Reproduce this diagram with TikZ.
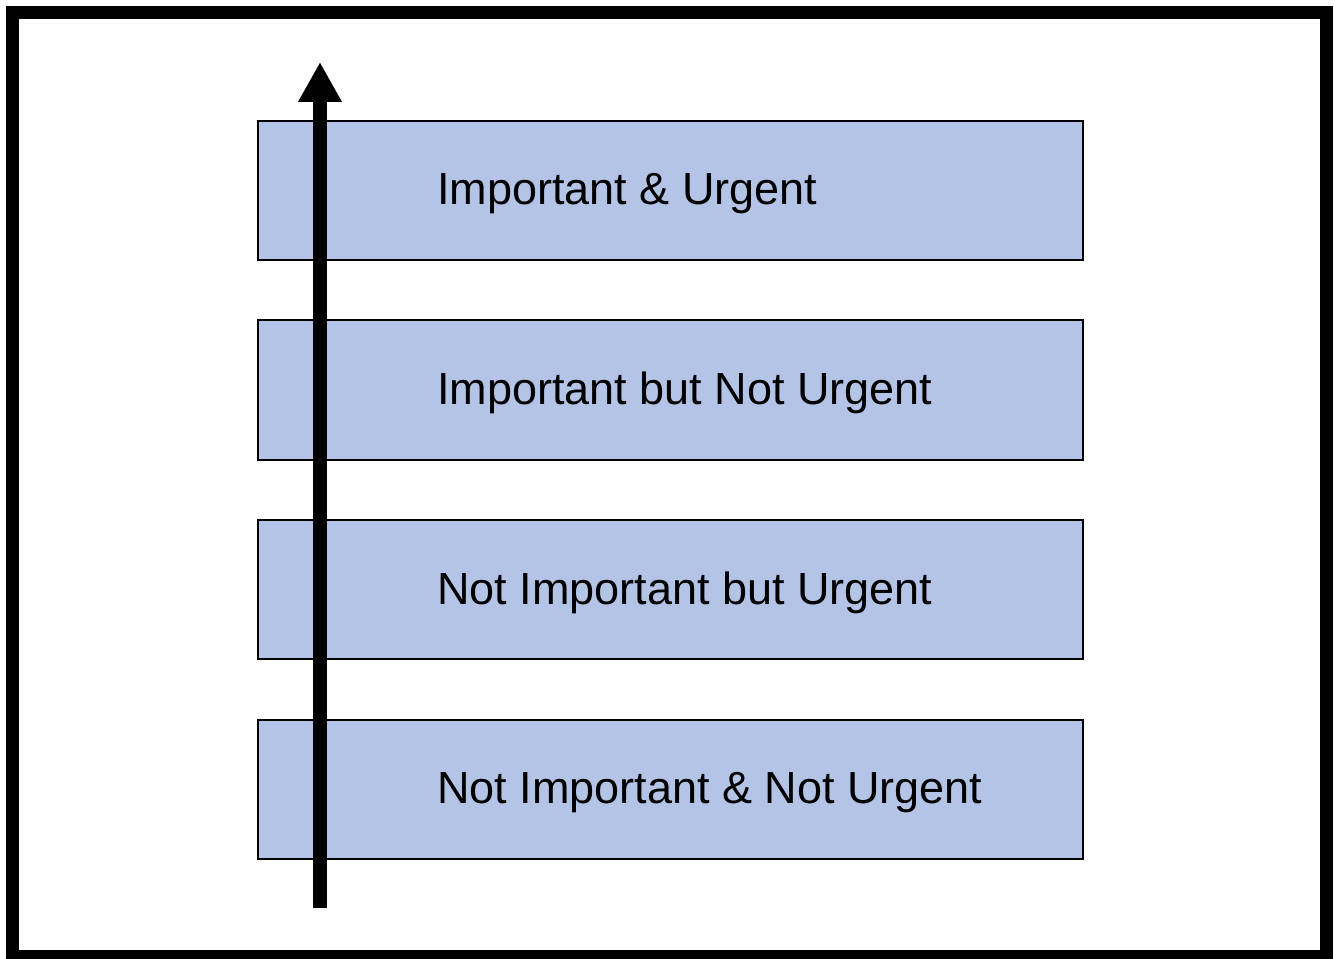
\documentclass[tikz,border=0pt]{standalone}
\usepackage{fontspec}
\setmainfont{Liberation Sans}
\usetikzlibrary{arrows.meta}

\definecolor{bandblue}{RGB}{180,196,230}

\tikzset{
  band/.style={draw=black, fill=bandblue, line width=1.5pt,
    minimum width=618.75pt, minimum height=104.6pt, inner sep=0pt,
    anchor=north west},
  bandtext/.style={inner sep=0pt, anchor=base west,
    font=\fontsize{33.75}{40}\selectfont},
  axis/.style={line width=10.5pt,
    -{Triangle[width=30.75pt, length=30pt]}}
}

\begin{document}
\begin{tikzpicture}[x=0.75pt, y=-0.75pt]
  \useasboundingbox (0,0) rectangle (1335,959);

  % Outer frame
  \draw[line width=9.75pt] (12.5,13) rectangle (1326.5,956);

  % Bands
  \node[band] (b1) at (257,120) {};
  \node[band] (b2) at (257,319.5) {};
  \node[band] (b3) at (257,519) {};
  \node[band] (b4) at (257,718.5) {};

  \node[bandtext] (t1) at (437,205) {Important \& Urgent};
  \node[bandtext] (t2) at (437,404.5) {Important but Not Urgent};
  \node[bandtext] (t3) at (437,604) {Not Important but Urgent};
  \node[bandtext] (t4) at (437,803.5) {Not Important \& Not Urgent};

  % Priority arrow
  \coordinate (tail) at (320,908);
  \coordinate (tip) at (320,62);

  %\fill (tip) circle (2pt);

  \draw[axis] (tail) -- (tip);
\end{tikzpicture}
\end{document}
